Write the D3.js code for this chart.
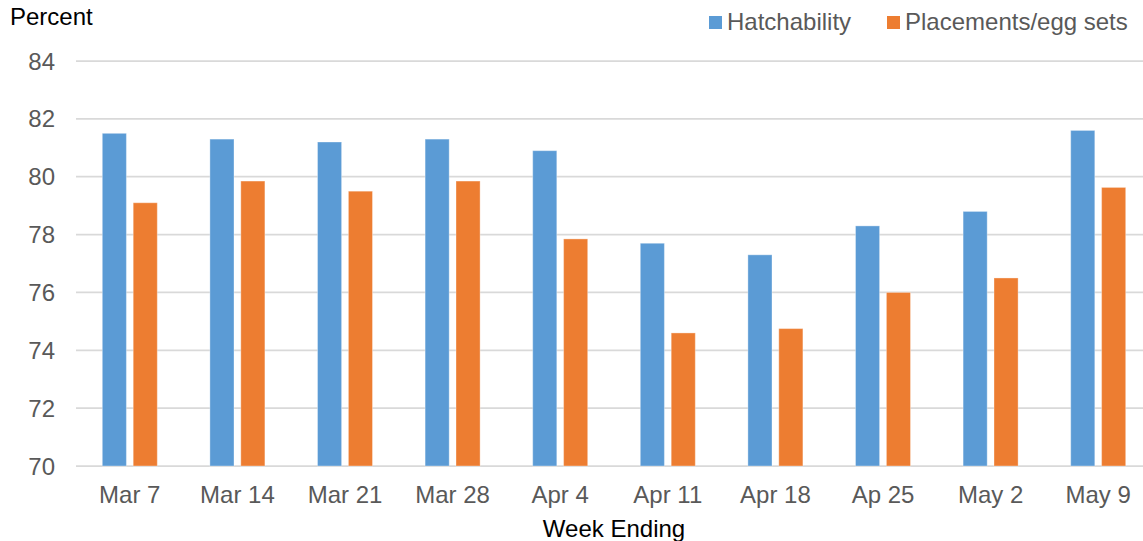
<!DOCTYPE html>
<html><head><meta charset="utf-8">
<script src="https://cdn.jsdelivr.net/npm/d3@7"></script>
<style>body{margin:0;background:#fff;} text{font-family:"Liberation Sans",Arial,sans-serif;}</style>
</head><body>
<svg id="chart" width="1143" height="541"></svg>
<script>
const categories = ["Mar 7","Mar 14","Mar 21","Mar 28","Apr 4","Apr 11","Apr 18","Ap 25","May 2","May 9"];
const hatchability = [81.5,81.3,81.2,81.3,80.9,77.7,77.3,78.3,78.8,81.6];
const placements = [79.1,79.85,79.5,79.85,77.85,74.6,74.75,76.0,76.5,79.63];
const yTicks = [70,72,74,76,78,80,82,84];
const seriesNames = ["Hatchability","Placements/egg sets"];
const colors = ["#5B9BD5","#ED7D31"];

const svg = d3.select("#chart");
const x = d3.scaleBand().domain(categories).range([76,1152]).paddingInner(0).paddingOuter(0);
const y = d3.scaleLinear().domain([70,84]).range([466,61]);
const x1 = d3.scaleBand().domain(seriesNames).range([26.3, x.bandwidth()-26.3]).paddingInner(0.22);

// gridlines
svg.append("g").selectAll("line").data(yTicks).join("line")
  .attr("x1",76).attr("x2",1143)
  .attr("y1",d=>y(d)).attr("y2",d=>y(d))
  .attr("stroke","#D9D9D9").attr("stroke-width",1.75);

// y labels
svg.append("g").selectAll("text").data(yTicks).join("text")
  .attr("x",55).attr("y",d=>y(d)).attr("dy","0.36em")
  .attr("text-anchor","end").attr("fill","#595959").attr("font-size",24)
  .text(d=>d);

const data = [hatchability, placements];
data.forEach((vals,si)=>{
  svg.append("g").selectAll("rect").data(vals).join("rect")
    .attr("x",(d,i)=>x(categories[i])+x1(seriesNames[si]))
    .attr("width",x1.bandwidth())
    .attr("y",d=>y(d))
    .attr("height",d=>y(70)-y(d))
    .attr("fill",colors[si])
    .attr("stroke","rgba(255,255,255,0.35)").attr("stroke-width",1);
});

// x labels
svg.append("g").selectAll("text").data(categories).join("text")
  .attr("x",d=>x(d)+x.bandwidth()/2).attr("y",503)
  .attr("text-anchor","middle").attr("fill","#595959").attr("font-size",24)
  .text(d=>d);

svg.append("text").attr("x",614).attr("y",537).attr("text-anchor","middle")
  .attr("fill","#000").attr("font-size",24).text("Week Ending");
svg.append("text").attr("x",10).attr("y",25).attr("fill","#000").attr("font-size",24).text("Percent");

// legend
const legX = [709, 887];
seriesNames.forEach((n,i)=>{
  svg.append("rect").attr("x",legX[i]).attr("y",16).attr("width",13).attr("height",13).attr("fill",colors[i]);
  svg.append("text").attr("x",legX[i]+18).attr("y",30).attr("fill","#595959").attr("font-size",24).text(n);
});
</script>
</body></html>
